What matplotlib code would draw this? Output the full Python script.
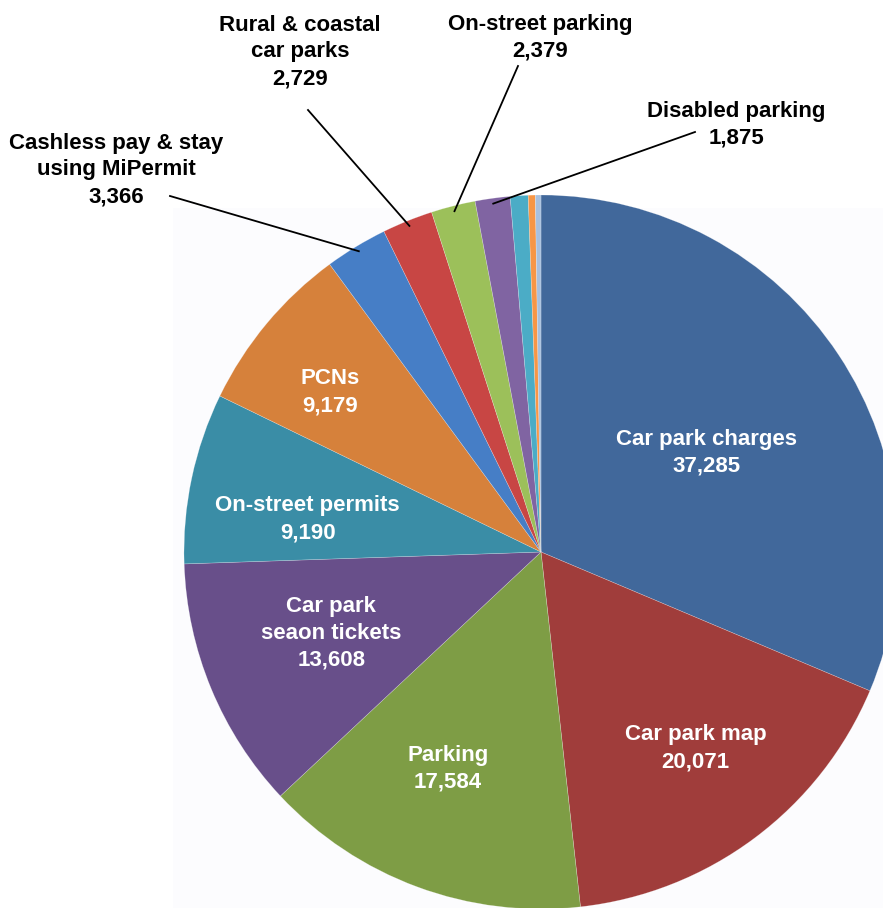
import matplotlib
matplotlib.use("Agg")
import matplotlib.pyplot as plt
import numpy as np

categories = ["Car park charges", "Car park map", "Parking", "Car park\nseaon tickets",
              "On-street permits", "PCNs", "Cashless pay & stay\nusing MiPermit",
              "Rural & coastal\ncar parks", "On-street parking", "Disabled parking",
              "Other 1", "Other 2", "Other 3"]
values = [37285, 20071, 17584, 13608, 9190, 9179, 3366, 2729, 2379, 1875, 960, 380, 300]
value_labels = ["37,285", "20,071", "17,584", "13,608", "9,190", "9,179",
                "3,366", "2,729", "2,379", "1,875", "", "", ""]
colors = ["#41689B", "#A03D3B", "#7E9D45", "#684F8A", "#3A8DA6", "#D6813B",
          "#467EC6", "#C84644", "#9CC05A", "#8064A2", "#4BACC6", "#F79646", "#A8C0DE"]

plt.rcParams['font.family'] = ['Liberation Sans Narrow', 'Liberation Sans', 'DejaVu Sans']

W, H = 883, 908
fig = plt.figure(figsize=(W / 100, H / 100), dpi=100)
fig.patches.append(plt.Rectangle((173 / W, 0), 1, 1 - 208 / H, transform=fig.transFigure,
                                 facecolor="#FCFCFE", edgecolor="none", zorder=-5))

cx, cy, R = 541, 552, 357
ax = fig.add_axes([(cx - R) / W, 1 - (cy + R) / H, 2 * R / W, 2 * R / H])
ax.set_zorder(2)

wedges, _ = ax.pie(values, colors=colors, startangle=90, counterclock=False,
                   radius=1, wedgeprops=dict(linewidth=0.4, edgecolor=(1, 1, 1, 0.35)))
ax.set_xlim(-1, 1)
ax.set_ylim(-1, 1)
ax.set_aspect("auto")
ax.axis("off")
for w in wedges:
    w.set_clip_on(False)

def px2d(px, py):
    return ((px - cx) / R, (cy - py) / R)

fs = 16
# label radius and clockwise angle shift (deg) relative to wedge middle
inside_r = [0.54, 0.70, 0.66, 0.63, 0.66, 0.74]
inside_shift = [2.5, -1.5, 3.0, 1.3, -4.0, -2.6]
for i in range(6):
    w = wedges[i]
    ang = np.deg2rad((w.theta1 + w.theta2) / 2 - inside_shift[i])
    r = inside_r[i]
    ax.text(r * np.cos(ang), r * np.sin(ang), categories[i] + "\n" + value_labels[i],
            ha="center", va="center", color="white", fontsize=fs, fontweight="bold",
            linespacing=1.35)

# outside labels: (text centre px, leader outer end px)
outside = {6: ((116, 170), (170, 196)),
           7: ((300, 52), (308, 110)),
           8: ((540, 38), (518, 66)),
           9: ((736, 125), (695, 132))}
for i, (tpos, lend) in outside.items():
    w = wedges[i]
    ang = np.deg2rad((w.theta1 + w.theta2) / 2)
    ex, ey = 0.985 * np.cos(ang), 0.985 * np.sin(ang)
    lx, ly = px2d(*lend)
    ax.plot([lx, ex], [ly, ey], color="black", lw=1.3, clip_on=False)
    tx, ty = px2d(*tpos)
    ax.text(tx, ty, categories[i] + "\n" + value_labels[i], ha="center", va="center",
            color="black", fontsize=fs, fontweight="bold", linespacing=1.35, clip_on=False)

fig.savefig("out.png", dpi=100, facecolor="white")
